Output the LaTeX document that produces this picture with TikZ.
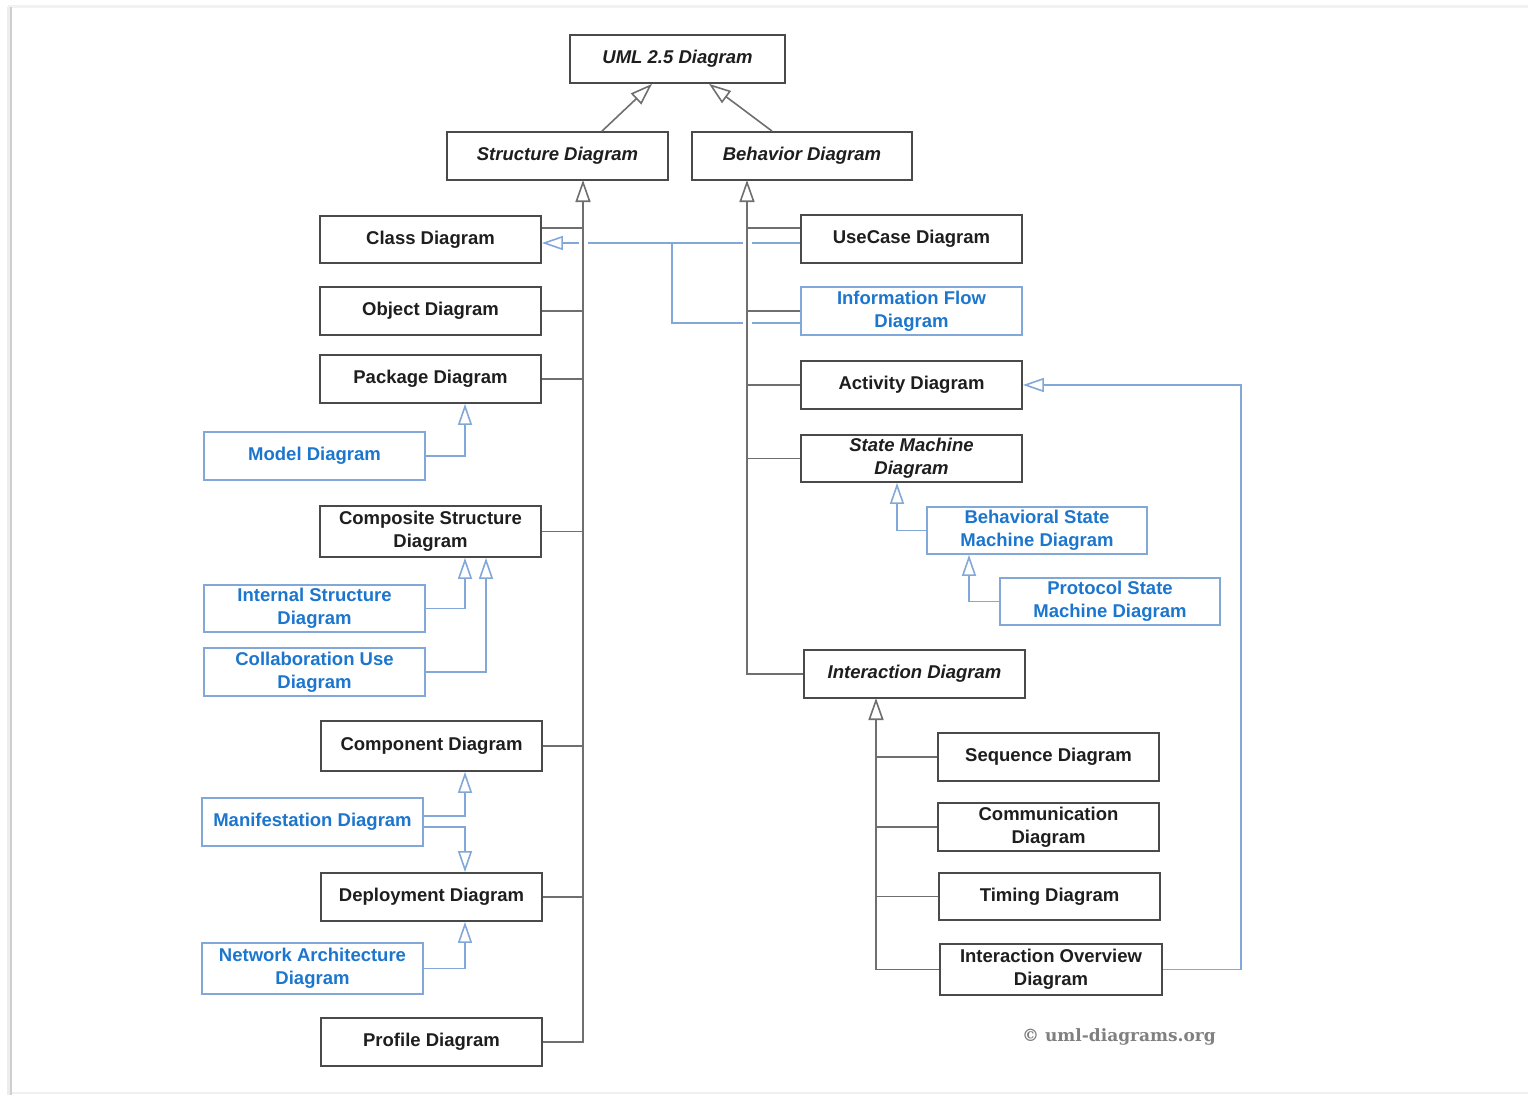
\documentclass[tikz,border=0pt]{standalone}
\usepackage{fontspec}
\setmainfont{Liberation Sans}
\newfontfamily\credfont{DejaVu Serif}
\usetikzlibrary{arrows.meta,calc}
\definecolor{boxline}{HTML}{4A4A4A}
\definecolor{connline}{HTML}{6F6F6F}
\definecolor{umlblue}{HTML}{1C76CE}
\definecolor{blueline}{HTML}{82A8DA}
\definecolor{labelink}{HTML}{1E1E1E}
\definecolor{credink}{HTML}{808080}

\begin{document}
\begin{tikzpicture}[x=1pt,y=-1pt,
  diag/.style={draw=boxline, line width=1.8pt, fill=white, inner sep=0pt,
    minimum width=221pt, minimum height=48pt, align=center, text=labelink,
    font=\fontsize{18.5}{23}\selectfont\bfseries},
  abstract/.style={diag, font=\fontsize{18.5}{23}\selectfont\bfseries\itshape},
  bluediag/.style={diag, draw=blueline, text=umlblue},
  conn/.style={draw=connline, line width=1.6pt},
  gen/.style={conn, -{Triangle[open, length=22pt, width=15pt]}},
  bconn/.style={draw=blueline, line width=1.6pt},
  bgen/.style={bconn, -{Triangle[open, length=21pt, width=14pt]}},
  hop/.style={draw=white, line width=5pt},
]
% page with its shadow
\useasboundingbox (0,0) rectangle (1528,1095);
\fill[white] (0,0) rectangle (1528,1095);
\fill[gray!10] (8,4.5) rectangle (1528,7.5);
\fill[gray!14] (7,7) rectangle (9.5,1095);
\fill[gray!38] (9.5,7) rectangle (12,1095);
\fill[gray!12] (12,1092) rectangle (1528,1094);

% root
\node[abstract, minimum width=215pt] (uml) at (677.5,59) {UML 2.5 Diagram};
\node[abstract] (str) at (557.5,156) {Structure Diagram};
\node[abstract, minimum width=220pt] (beh) at (802,156) {Behavior Diagram};

% structure diagrams
\node[diag, minimum height=47pt] (cls) at (430.5,239.5) {Class Diagram};
\node[diag] (obj) at (430.5,311) {Object Diagram};
\node[diag] (pkg) at (430.5,379) {Package Diagram};
\node[bluediag] (mdl) at (314.5,456) {Model Diagram};
\node[diag, minimum height=51pt] (cps) at (430.5,531.5) {Composite Structure\\Diagram};
\node[bluediag, minimum height=47pt] (ist) at (314.5,608.5) {Internal Structure\\Diagram};
\node[bluediag] (cus) at (314.5,672) {Collaboration Use\\Diagram};
\node[diag, minimum height=50pt] (cmp) at (431.5,746) {Component Diagram};
\node[bluediag] (man) at (312.5,822) {Manifestation Diagram};
\node[diag] (dep) at (431.5,897) {Deployment Diagram};
\node[bluediag, minimum height=51pt] (net) at (312.5,968.5) {Network Architecture\\Diagram};
\node[diag] (prf) at (431.5,1042) {Profile Diagram};

% behavior diagrams
\node[diag] (uc) at (911.5,239) {UseCase Diagram};
\node[bluediag] (inf) at (911.5,311) {Information Flow\\Diagram};
\node[diag] (act) at (911.5,385) {Activity Diagram};
\node[abstract, minimum height=47pt] (sm) at (911.5,458.5) {State Machine\\Diagram};
\node[bluediag, minimum width=220pt, minimum height=47pt] (bsm) at (1037,530.5) {Behavioral State\\Machine Diagram};
\node[bluediag, minimum width=220pt, minimum height=47pt] (psm) at (1110,601.5) {Protocol State\\Machine Diagram};
\node[abstract] (ia) at (914.5,674) {Interaction Diagram};
\node[diag] (seq) at (1048.5,757) {Sequence Diagram};
\node[diag] (com) at (1048.5,827) {Communication\\Diagram};
\node[diag, minimum height=47pt] (tim) at (1049.5,896.5) {Timing Diagram};
\node[diag, minimum width=222pt, minimum height=51pt] (iod) at (1051,969.5) {Interaction Overview\\Diagram};

\node[font=\credfont\fontsize{17}{20}\selectfont\bfseries, text=credink, inner sep=0pt] (cred) at (1119,1037) {\textcopyright\ uml-diagrams.org};

% trunk and junction points
\coordinate (sTop) at (583,180);
\coordinate (bTop) at (747,180);
\coordinate (iTop) at (876,698);
\coordinate (flowJoin) at (672,243);
\coordinate (actTurn) at (1241,385);
\coordinate (clsB) at ([yshift=11.5pt]cls.east);
\coordinate (ucB) at ([yshift=11pt]uc.west);
\coordinate (ucFlow) at ([yshift=-4pt]uc.west);
\coordinate (infFlow) at ([yshift=-12pt]inf.west);

% information flows realizing class and use case diagrams
\draw[bgen] (ucFlow) -- (ucFlow -| cls.east);
\draw[bconn] (infFlow) -| (flowJoin);
\draw[hop] (579,243) -- (588,243);
\draw[hop] (743,243) -- (752,243);
\draw[hop] (743,323) -- (752,323);

% top level generalizations
\draw[gen] ([xshift=44.5pt]str.north) -- ([xshift=-25.5pt]uml.south);
\draw[gen] ([xshift=-30pt]beh.north) -- ([xshift=31.5pt]uml.south);

% structure tree
\draw[gen] (prf.east) -| (sTop);
\draw[conn] (clsB) -- (clsB -| sTop);
\foreach \n in {obj,pkg,cps,cmp,dep}
  \draw[conn] (\n.east) -- (\n.east -| sTop);

% behavior tree
\draw[gen] (ia.west) -| (bTop);
\draw[conn] (ucB) -- (ucB -| bTop);
\foreach \n in {inf,act,sm}
  \draw[conn] (\n.west) -- (\n.west -| bTop);

% interaction tree
\draw[gen] (iod.west) -| (iTop);
\foreach \n in {seq,com,tim}
  \draw[conn] (\n.west) -- (\n.west -| iTop);

% specialized diagrams
\draw[bgen] (mdl.east) -| ([xshift=34.5pt]pkg.south);
\draw[bgen] (ist.east) -| ([xshift=34.5pt]cps.south);
\draw[bgen] (cus.east) -| ([xshift=55.5pt]cps.south);
\draw[bgen] ([yshift=6pt]man.east) -| ([xshift=33.5pt]cmp.south);
\draw[bgen] ([yshift=-5pt]man.east) -| ([xshift=33.5pt]dep.north);
\draw[bgen] (net.east) -| ([xshift=33.5pt]dep.south);
\draw[bgen] (bsm.west) -| ([xshift=-14.5pt]sm.south);
\draw[bgen] (psm.west) -| ([xshift=-68pt]bsm.south);
\draw[bgen] (iod.east) -| (actTurn) -- (act.east);
\end{tikzpicture}
\end{document}
